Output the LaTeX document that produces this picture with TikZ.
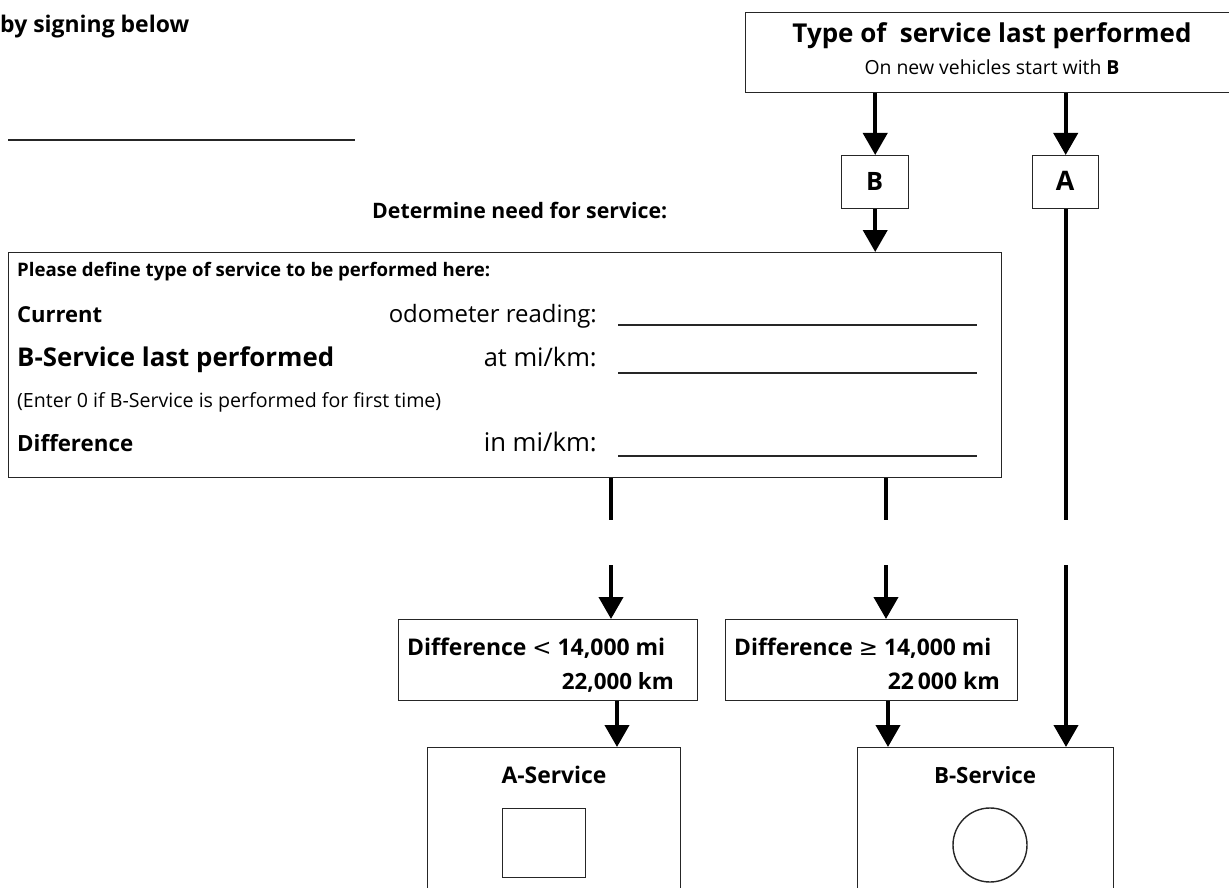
\documentclass[tikz,border=0pt]{standalone}
\usepackage{fontspec}
\setmainfont{Open Sans}
\newfontfamily\djv{DejaVu Sans}
\usepackage{graphicx}
\usetikzlibrary{arrows.meta}
\newcommand{\tw}[2]{\resizebox{#1pt}{!}{#2}}
\begin{document}
\begin{tikzpicture}[x=1pt,y=-1pt,
  box/.style={draw=black!85, line width=1.4pt, inner sep=0pt, anchor=north west},
  flow/.style={line width=4pt, -{Triangle[width=24pt,length=22pt]}},
  seg/.style={line width=4pt},
  rule/.style={line width=1.3pt, draw=black!85}]
\useasboundingbox (0,0) rectangle (1229,888);
\clip (0,0) rectangle (1229,888);

% boxes
\node[box, minimum width=500pt, minimum height=80pt] (top) at (745,12) {};
\node[box, minimum width=67pt, minimum height=53pt] (B) at (841,155) {};
\node[box, minimum width=66pt, minimum height=53pt] (A) at (1032,155) {};
\node[box, minimum width=993pt, minimum height=225pt] (main) at (8,252) {};
\node[box, minimum width=299pt, minimum height=81pt] (d1) at (398,619) {};
\node[box, minimum width=292pt, minimum height=81pt] (d2) at (725,619) {};
\node[box, minimum width=253pt, minimum height=160pt] (As) at (427,747) {};
\node[box, minimum width=256pt, minimum height=160pt] (Bs) at (857,747) {};
\node[box, minimum width=83pt, minimum height=69pt] (sq) at (502,808) {};
\node[draw=black!85, line width=1.4pt, circle, minimum size=74pt, inner sep=0pt] (ci) at (990,845) {};

% texts
\node[inner sep=0pt, anchor=base] (t1) at (992,43) {\tw{399}{\bfseries Type of\ \ service last performed}};
\node[inner sep=0pt, anchor=base] (t2) at (992,75) {\tw{255}{On new vehicles start with \textbf{B}}};
\node[inner sep=0pt, anchor=base] (tb) at (874.5,190) {\tw{17}{\bfseries B}};
\node[inner sep=0pt, anchor=base] (ta) at (1065,190) {\tw{18.5}{\bfseries A}};
\node[inner sep=0pt, anchor=base west] (sig) at (0,33) {\tw{189}{\bfseries by signing below}};
\node[inner sep=0pt, anchor=base west] (det) at (372,218) {\tw{295}{\bfseries Determine need for service:}};

\node[inner sep=0pt, anchor=base west] (p1) at (17,276) {\tw{473}{\bfseries Please define type of service to be performed here:}};
\node[inner sep=0pt, anchor=base west] (p2) at (17,322) {\tw{85}{\bfseries Current}};
\node[inner sep=0pt, anchor=base east] (p3) at (597,322) {\tw{208}{odometer reading:}};
\node[inner sep=0pt, anchor=base west] (p4) at (17,366) {\tw{317}{\bfseries B-Service last performed}};
\node[inner sep=0pt, anchor=base east] (p5) at (597,366) {\tw{113}{at mi/km:}};
\node[inner sep=0pt, anchor=base west] (p6) at (17,407) {\tw{424}{(Enter 0 if B-Service is performed for first time)}};
\node[inner sep=0pt, anchor=base west] (p7) at (17,451) {\tw{116}{\bfseries Difference}};
\node[inner sep=0pt, anchor=base east] (p8) at (597,451) {\tw{113}{in mi/km:}};

\node[inner sep=0pt, anchor=base west] (q1) at (407,655) {\tw{258}{\bfseries Difference {\djv\mdseries <} 14,000 mi}};
\node[inner sep=0pt, anchor=base east] (q2) at (674,689) {\tw{112}{\bfseries 22,000 km}};
\node[inner sep=0pt, anchor=base west] (q3) at (734,655) {\tw{257}{\bfseries Difference {\djv\mdseries ≥} 14,000 mi}};
\node[inner sep=0pt, anchor=base east] (q4) at (1000,689) {\tw{112}{\bfseries 22\,000 km}};
\node[inner sep=0pt, anchor=base] (q5) at (554,783) {\tw{105}{\bfseries A-Service}};
\node[inner sep=0pt, anchor=base] (q6) at (985,783) {\tw{102}{\bfseries B-Service}};

% rules
\coordinate (s1) at (8,140); \coordinate (s2) at (355,140);
\draw[rule] (s1) -- (s2);
\coordinate (u1) at (618,325); \coordinate (u2) at (977,325);
\coordinate (u3) at (618,373); \coordinate (u4) at (977,373);
\coordinate (u5) at (618,456); \coordinate (u6) at (977,456);
\draw[rule] (u1) -- (u2);
\draw[rule] (u3) -- (u4);
\draw[rule] (u5) -- (u6);

% connectors
\draw[flow] (B.north |- top.south) -- (B.north);
\draw[flow] (A.north |- top.south) -- (A.north);
\draw[flow] (B.south) -- (B.south |- main.north);

\coordinate (m1) at (611,520); \coordinate (n1) at (611,565);
\coordinate (m2) at (886,520); \coordinate (n2) at (886,565);
\coordinate (m3) at (1066,520); \coordinate (n3) at (1066,565);
\coordinate (x1) at (617,0); \coordinate (x2) at (888,0);

\draw[seg] (m1 |- main.south) -- (m1);
\draw[seg] (m2 |- main.south) -- (m2);
\draw[seg] (A.south -| m3) -- (m3);
\draw[flow] (n1) -- (n1 |- d1.north);
\draw[flow] (n2) -- (n2 |- d2.north);
\draw[flow] (n3) -- (n3 |- Bs.north);
\draw[flow] (x1 |- d1.south) -- (x1 |- As.north);
\draw[flow] (x2 |- d2.south) -- (x2 |- Bs.north);
\end{tikzpicture}
\end{document}
